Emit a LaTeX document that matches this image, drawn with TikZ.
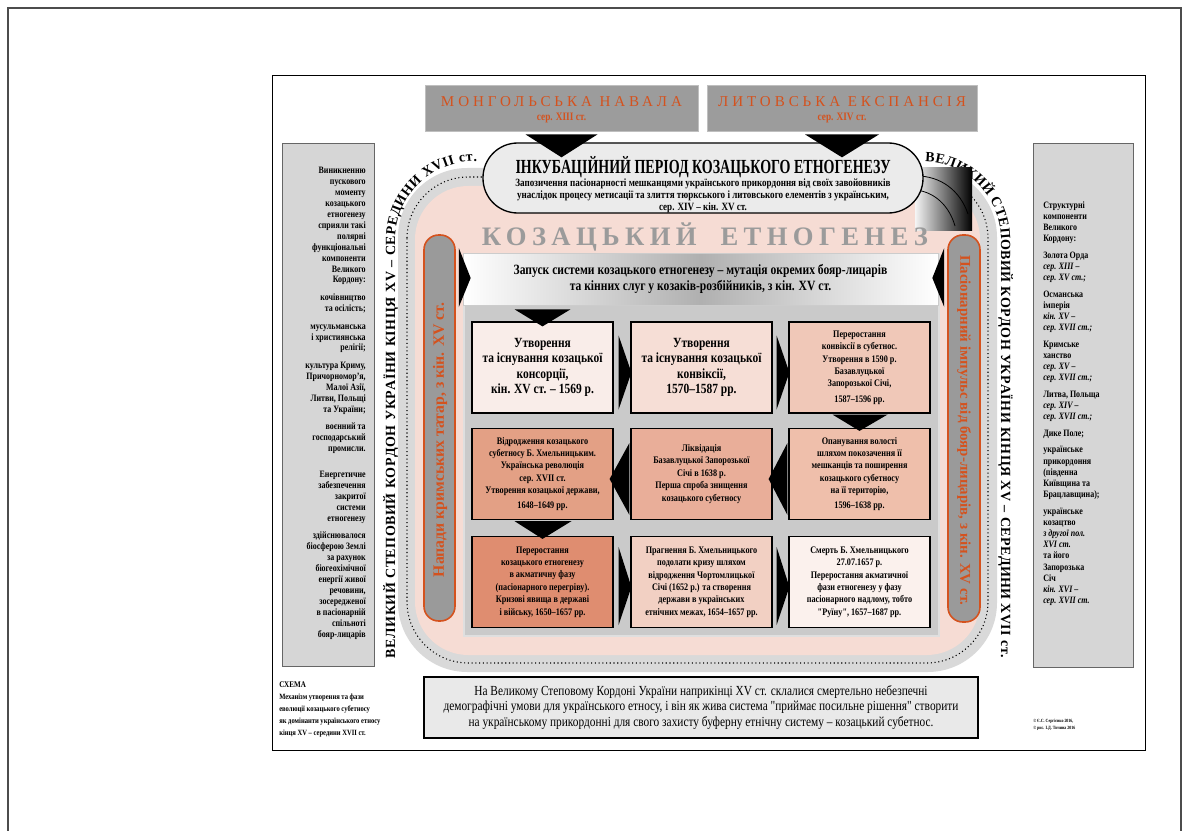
\documentclass[tikz,border=0pt]{standalone}
\usepackage{fontspec}
\setmainfont{Liberation Serif}
\newfontfamily\cnd{Liberation Serif}[FakeStretch=0.82]
\newfontfamily\ccnd{Liberation Serif}[FakeStretch=0.7]
\newfontfamily\spcA{Liberation Serif}[LetterSpace=26]
\newfontfamily\spcB{Liberation Serif}[LetterSpace=20]
\usetikzlibrary{calc,decorations.text}
\definecolor{orng}{HTML}{D4521E}
\definecolor{bannergray}{HTML}{9C9C9C}
\definecolor{sidegray}{HTML}{D6D6D6}
\definecolor{pinkbg}{HTML}{F6DCD4}
\definecolor{bandgray}{HTML}{D9D9D9}
\definecolor{panelgray}{HTML}{CACACA}
\definecolor{incubfill}{HTML}{EBEBEB}
\definecolor{botfill}{HTML}{E9E9E9}
\definecolor{pillgray}{HTML}{9A9A9A}
\definecolor{titlegray}{HTML}{9B9B9B}
\definecolor{ca}{HTML}{F9EDE9}
\definecolor{cb}{HTML}{F6DED6}
\definecolor{cc}{HTML}{F0C8B8}
\definecolor{cd}{HTML}{E3A085}
\definecolor{ce}{HTML}{E9AE99}
\definecolor{cf}{HTML}{EFBFAB}
\definecolor{cg}{HTML}{DF8D70}
\definecolor{ch}{HTML}{F2D0C3}
\definecolor{ci}{HTML}{FBF1ED}
\begin{document}
\begin{tikzpicture}[x=0.75pt,y=-0.75pt,
  gbox/.style={draw=black, line width=0.9pt, minimum width=141*0.75pt, minimum height=91*0.75pt, align=center, inner sep=1pt, font=\cnd\bfseries\fontsize{7.5}{9.3}\selectfont},
  gboxbig/.style={gbox, font=\cnd\bfseries\fontsize{10.5}{11.4}\selectfont},
  sidetxt/.style={inner sep=0pt, font=\cnd\bfseries\fontsize{7.3}{8.2}\selectfont},
  sidebox/.style={draw=gray!80!black, line width=0.6pt, fill=sidegray},
  banner/.style={draw=gray!50, line width=0.6pt, fill=bannergray, minimum height=46*0.75pt},
  bantxt/.style={text=orng, font=\spcA\fontsize{11.3}{12}\selectfont, inner sep=0pt},
  bansub/.style={text=orng, font=\cnd\bfseries\fontsize{8.5}{9}\selectfont, inner sep=0pt},
  pill/.style={draw=orng, line width=1.2pt, fill=pillgray, rounded corners=11pt},
  pilltxt/.style={text=orng, font=\bfseries\fontsize{11.8}{12}\selectfont, inner sep=0pt},
  curvtxt/.style={decorate, decoration={text along path, text align={fit to path}, text={#1}}},
  tri/.style={fill=black}
]
\useasboundingbox (0,0) rectangle (1189,831);
\fill[white] (0,0) rectangle (1189,831);
% page lines
\draw[gray!60!black, line width=0.8pt] (8,831) -- (8,8) -- (1181,8) -- (1181,831);
% inner frame
\draw[line width=0.6pt] (272,75) rectangle (1145,750);

% sidebars
\draw[sidebox] (282,143) rectangle (374,666);
\draw[sidebox] (1033,143) rectangle (1133,667);
\node[sidetxt, anchor=north east, align=right] (ltxt) at (366,167) {Виникненню\\пускового\\моменту\\козацького\\етногенезу\\сприяли такі\\полярні\\функціональні\\компоненти\\Великого\\Кордону:\\[5pt]кочівництво\\та осілість;\\[5pt]мусульманська\\і християнська\\релігії;\\[5pt]культура Криму,\\Причорномор’я,\\Малої Азії,\\Литви, Польщі\\та України;\\[5pt]воєнний та\\господарський\\промисли.\\[11pt]Енергетичне\\забезпечення\\закритої\\системи\\етногенезу\\[5pt]здійснювалося\\біосферою Землі\\за рахунок\\біогеохімічної\\енергії живої\\речовини,\\зосередженої\\в пасіонарній\\спільноті\\бояр-лицарів};
\node[sidetxt, anchor=north west, align=left, font=\cnd\bfseries\fontsize{7.3}{8.4}\selectfont] (rtxt) at (1043,201) {Структурні\\компоненти\\Великого\\Кордону:\\[4pt]Золота Орда\\\textit{сер. XIII –}\\\textit{сер. XV ст.;}\\[4pt]Османська\\імперія\\\textit{кін. XV –}\\\textit{сер. XVII ст.;}\\[4pt]Кримське\\ханство\\\textit{сер. XV –}\\\textit{сер. XVII ст.;}\\[4pt]Литва, Польща\\\textit{сер. XIV –}\\\textit{сер. XVII ст.;}\\[4pt]Дике Поле;\\[4pt]українське\\прикордоння\\(південна\\Київщина та\\Брацлавщина);\\[4pt]українське\\козацтво\\\textit{з другої пол.}\\\textit{XVI ст.}\\та його\\Запорозька\\Січ\\\textit{кін. XVI –}\\\textit{сер. XVII ст.}};

% border band
\fill[bandgray, rounded corners=52pt] (398,168) rectangle (997,672);
\draw[dotted, line width=0.8pt, rounded corners=46pt] (407,177) rectangle (988,663);
\fill[pinkbg, rounded corners=40pt] (415,186) rectangle (980,655);

% curved texts
\begingroup
\bfseries\fontsize{10.5}{12}\selectfont
\path[curvtxt={ВЕЛИКИЙ СТЕПОВИЙ КОРДОН УКРАЇНИ КІНЦЯ XV – СЕРЕДИНИ XVII ст.}] (395,658) -- (395,240) .. controls (395,196) and (431,161) .. (477,161);
\path[curvtxt={ВЕЛИКИЙ СТЕПОВИЙ КОРДОН УКРАЇНИ КІНЦЯ XV – СЕРЕДИНИ XVII ст.}] (925,162) .. controls (967,162) and (1001,198) .. (1001,240) -- (1001,658);
\endgroup

% gradient square
\shade[left color=white!92!gray, right color=black] (915,168) rectangle (972,231);
\draw[line width=0.6pt] (917,176) .. controls (940,176) and (960,190) .. (968,214);
\draw[line width=0.6pt] (916,190) .. controls (934,192) and (949,205) .. (955,226);

% big title
\node[text=titlegray, font=\spcB\bfseries\fontsize{20}{21}\selectfont, inner sep=0pt] (kozet) at (705,237) {КОЗАЦЬКИЙ\hspace{18pt}ЕТНОГЕНЕЗ};

% pills
\node[pill, minimum width=31*0.75pt, minimum height=386*0.75pt] (lpill) at (439.5,428) {};
\node[pilltxt, rotate=90] (lpilltxt) at (440,440) {Напади кримських татар, з кін. XV ст.};
\node[pill, minimum width=32*0.75pt, minimum height=387*0.75pt] (rpill) at (964,428.5) {};
\node[pilltxt, rotate=-90, font=\bfseries\fontsize{11.2}{12}\selectfont] (rpilltxt) at (964,430) {Пасіонарний імпульс від бояр-лицарів, з кін. XV ст.};

% panel and launch banner
\fill[panelgray] (463,253) rectangle (940,637);
\draw[gray!25, line width=1.6pt] (464,254) rectangle (939,636);
\node[draw=gray!40, line width=0.5pt, left color=white, right color=white, middle color=gray!62, minimum width=475*0.75pt, minimum height=52*0.75pt, align=center, font=\cnd\bfseries\fontsize{10.6}{12}\selectfont] (launch) at (700.5,279) {Запуск системи козацького етногенезу – мутація окремих бояр-лицарів\\та кінних слуг у козаків-розбійників, з кін. XV ст.};
\fill[tri] ($(lpill.east |- launch.west)+(3,-31)$) -- ($(lpill.east |- launch.west)+(3,28)$) -- ($(launch.west)+(8,-1)$) -- cycle;
\fill[tri] ($(rpill.west |- launch.east)+(-3,-31)$) -- ($(rpill.west |- launch.east)+(-3,28)$) -- ($(launch.east)+(-6,-1)$) -- cycle;

% grid boxes
\node[gboxbig, fill=ca] (r1c1) at (542.5,367.5) {Утворення\\та існування козацької\\консорції,\\кін. XV ст. – 1569 р.};
\node[gboxbig, fill=cb] (r1c2) at (701.5,367.5) {Утворення\\та існування козацької\\конвіксії,\\1570–1587 рр.};
\node[gbox, fill=cc] (r1c3) at (859.5,367.5) {Переростання\\конвіксії в субетнос.\\Утворення в 1590 р.\\Базавлуцької\\Запорозької Січі,\\[2pt]1587–1596 рр.};
\node[gbox, fill=cd] (r2c1) at (542.5,474) {Відродження козацького\\субетносу Б. Хмельницьким.\\Українська революція\\сер. XVII ст.\\Утворення козацької держави,\\[2pt]1648–1649 рр.};
\node[gbox, fill=ce] (r2c2) at (701.5,474) {Ліквідація\\Базавлуцької Запорозької\\Січі в 1638 р.\\Перша спроба знищення\\козацького субетносу};
\node[gbox, fill=cf] (r2c3) at (859.5,474) {Опанування волості\\шляхом покозачення її\\мешканців та поширення\\козацького субетносу\\на її територію,\\[2pt]1596–1638 рр.};
\node[gbox, fill=cg] (r3c1) at (542.5,582) {Переростання\\козацького етногенезу\\в акматичну фазу\\(пасіонарного перегріву).\\Кризові явища в державі\\і війську, 1650–1657 рр.};
\node[gbox, fill=ch] (r3c2) at (701.5,582) {Прагнення Б. Хмельницького\\подолати кризу шляхом\\відродження Чортомлицької\\Січі (1652 р.) та створення\\держави в українських\\етнічних межах, 1654–1657 рр.};
\node[gbox, fill=ci] (r3c3) at (859.5,582) {Смерть Б. Хмельницького\\27.07.1657 р.\\Переростання акматичної\\фази етногенезу у фазу\\пасіонарного надлому, тобто\\"Руїну", 1657–1687 рр.};

% grid arrows
\fill[tri] ($(launch.south -| r1c1.north)+(-28,4)$) -- ($(launch.south -| r1c1.north)+(28,4)$) -- ($(r1c1.north)+(0,5)$) -- cycle;
\fill[tri] ($(r1c1.east)+(5,-32)$) -- ($(r1c1.east)+(5,42)$) -- ($(r1c2.west)+(1,5)$) -- cycle;
\fill[tri] ($(r1c2.east)+(4,-32)$) -- ($(r1c2.east)+(4,42)$) -- ($(r1c3.west)+(1,5)$) -- cycle;
\fill[tri] ($(r1c3.south)+(-27,1)$) -- ($(r1c3.south)+(28,1)$) -- ($(r2c3.north)+(0,3)$) -- cycle;
\fill[tri] ($(r2c3.west)+(-1,-31)$) -- ($(r2c3.west)+(-1,41)$) -- ($(r2c2.east)+(-4,5)$) -- cycle;
\fill[tri] ($(r2c2.west)+(-1,-31)$) -- ($(r2c2.west)+(-1,41)$) -- ($(r2c1.east)+(-4,5)$) -- cycle;
\fill[tri] ($(r2c1.south)+(-28,1)$) -- ($(r2c1.south)+(29,1)$) -- ($(r3c1.north)+(0,3)$) -- cycle;
\fill[tri] ($(r3c1.east)+(5,-35)$) -- ($(r3c1.east)+(5,43)$) -- ($(r3c2.west)+(1,5)$) -- cycle;
\fill[tri] ($(r3c2.east)+(4,-35)$) -- ($(r3c2.east)+(4,43)$) -- ($(r3c3.west)+(1,5)$) -- cycle;

% incubation period
\node[draw=black, line width=1pt, fill=incubfill, rounded corners=26pt, minimum width=440*0.75pt, minimum height=70*0.75pt] (incub) at (703,178) {};
\node[font=\ccnd\bfseries\fontsize{15}{16}\selectfont, inner sep=0pt] (incubtitle) at (703,167) {ІНКУБАЦІЙНИЙ ПЕРІОД КОЗАЦЬКОГО ЕТНОГЕНЕЗУ};
\node[font=\cnd\bfseries\fontsize{8.3}{9}\selectfont, align=center, inner sep=0pt] (incubsub) at (703,196) {Запозичення пасіонарності мешканцями українського прикордоння від своїх завойовників\\унаслідок процесу метисації та злиття тюркського і литовського елементів з українським,\\сер. XIV – кін. XV ст.};

% top banners
\node[banner, minimum width=273*0.75pt] (mong) at (561.5,108) {};
\node[bantxt] (mongt) at (561.5,102) {МОНГОЛЬСЬКА НАВАЛА};
\node[bansub] (mongs) at (561.5,118) {сер. XIII ст.};
\node[banner, minimum width=270*0.75pt] (lyt) at (842,108) {};
\node[bantxt] (lytt) at (842,102) {ЛИТОВСЬКА ЕКСПАНСІЯ};
\node[bansub] (lyts) at (842,118) {сер. XIV ст.};
\fill[tri] ($(mong.south)+(-36,3)$) -- ($(mong.south)+(36,3)$) -- ($(mong.south |- incub.north)+(0,15)$) -- cycle;
\fill[tri] ($(lyt.south)+(-37,3)$) -- ($(lyt.south)+(37,3)$) -- ($(lyt.south |- incub.north)+(0,15)$) -- cycle;

% bottom box
\node[draw=black, line width=1pt, fill=botfill, minimum width=554*0.75pt, minimum height=61*0.75pt, align=center, font=\cnd\fontsize{10.4}{11.6}\selectfont] (bottom) at (701,707.5) {На Великому Степовому Кордоні України наприкінці XV ст. склалися смертельно небезпечні\\демографічні умови для українського етносу, і він як жива система "приймає посильне рішення" створити\\на українському прикордонні для свого захисту буферну етнічну систему – козацький субетнос.};

% caption
\node[anchor=north west, align=left, inner sep=0pt, font=\cnd\bfseries\fontsize{6}{9}\selectfont] (caption) at (279,681) {{\fontsize{6.5}{9}\selectfont СХЕМА}\\Механізм утворення та фази\\еволюції козацького субетносу\\як домінанти українського етносу\\кінця XV – середини XVII ст.};
\node[anchor=north west, align=left, inner sep=0pt, font=\cnd\bfseries\fontsize{3.6}{5.5}\selectfont] (copyr) at (1033,719) {© Є.С. Сергієнко 2016,\\© рис. І.Д. Тичина 2016};
\end{tikzpicture}
\end{document}
